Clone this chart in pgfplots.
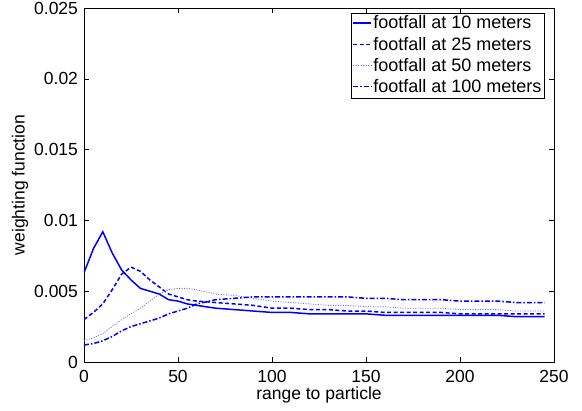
\documentclass[border=0pt]{standalone}
\usepackage{fontspec}
\setmainfont{Liberation Sans}
\usepackage{pgfplots}
\pgfplotsset{compat=1.18}
\usetikzlibrary{calc}

\begin{document}
\fontsize{17.5bp}{20bp}\selectfont
\begin{tikzpicture}
\begin{axis}[
  name=ax,
  scale only axis,
  width=470bp, height=354bp,
  xmin=0, xmax=250, ymin=0, ymax=0.025,
  xtick={0,50,...,250},
  ytick={0,0.005,0.01,0.015,0.02,0.025},
  yticklabels={0,0.005,0.01,0.015,0.02,0.025},
  scaled y ticks=false,
  tick align=inside,
  major tick length=5bp,
  tick style={black, line width=0.6bp},
  axis line style={line width=0.8bp},
  /pgf/number format/assume math mode=true,
  xticklabel style={yshift=-2bp},
  xlabel={range to particle},
  ylabel={weighting function},
  xlabel style={yshift=7bp},
  ylabel style={yshift=-6bp},
  legend cell align=left,
  legend style={at={(0.98,0.987)}, anchor=north east, draw=black,
    inner sep=1.5bp, row sep=2.5bp,
    nodes={inner sep=1.5bp, font=\fontsize{18bp}{20bp}\selectfont}},
  legend image code/.code={\draw[#1] (0bp,0.5bp) -- (18bp,0.5bp);},
]
\addplot[blue, line width=1.5bp] coordinates {
(0,0.0063) (5,0.0080) (10,0.0092) (15,0.0077) (20,0.0065) (25,0.0058)
(30,0.0052) (35,0.0050) (40,0.0048) (45,0.0044) (50,0.0043) (55,0.0041)
(60,0.0040) (70,0.0038) (80,0.0037) (90,0.0036) (100,0.0035) (110,0.0035)
(120,0.0034) (130,0.0034) (140,0.0034) (150,0.0034) (160,0.0033) (170,0.0033)
(180,0.0033) (190,0.0033) (200,0.0033) (210,0.0033) (220,0.0033) (230,0.0032)
(240,0.0032) (245,0.0032)};
\addlegendentry{footfall at 10 meters}
\addplot[blue, line width=1.5bp, dash pattern=on 4bp off 2.5bp] coordinates {
(0,0.0030) (5,0.0035) (10,0.0041) (15,0.0051) (20,0.0062) (25,0.0067)
(30,0.0064) (35,0.0058) (40,0.0053) (45,0.0048) (50,0.0046) (55,0.0044)
(60,0.0043) (70,0.0042) (80,0.0041) (90,0.0040) (100,0.0038) (110,0.0038)
(120,0.0037) (130,0.0037) (140,0.0036) (150,0.0036) (160,0.0035) (170,0.0035)
(180,0.0035) (190,0.0035) (200,0.0034) (210,0.0034) (220,0.0034) (230,0.0034)
(240,0.0034) (245,0.0034)};
\addlegendentry{footfall at 25 meters}
\addplot[blue!60, line width=0.8bp, dash pattern=on 1bp off 1.5bp] coordinates {
(0,0.0015) (5,0.0017) (10,0.0020) (15,0.0025) (20,0.0030) (25,0.0034)
(30,0.0038) (35,0.0043) (40,0.0048) (45,0.0051) (50,0.0052) (55,0.0052)
(60,0.0051) (70,0.0048) (80,0.0047) (90,0.0045) (100,0.0043) (110,0.0042)
(120,0.0041) (130,0.0040) (140,0.0040) (150,0.0039) (160,0.0039) (170,0.0038)
(180,0.0038) (190,0.0038) (200,0.0037) (210,0.0037) (220,0.0037) (230,0.0036)
(240,0.0036) (245,0.0036)};
\addlegendentry{footfall at 50 meters}
\addplot[blue, line width=1.5bp, dash pattern=on 5bp off 2bp on 1.5bp off 2bp] coordinates {
(0,0.0012) (5,0.0013) (10,0.0015) (15,0.0018) (20,0.0022) (25,0.0025)
(30,0.0027) (35,0.0029) (40,0.0031) (45,0.0034) (50,0.0036) (55,0.0038)
(60,0.0041) (70,0.0044) (80,0.0045) (90,0.0046) (100,0.0046) (110,0.0046)
(120,0.0046) (130,0.0046) (140,0.0046) (150,0.0045) (160,0.0045) (170,0.0044)
(180,0.0044) (190,0.0044) (200,0.0043) (210,0.0043) (220,0.0043) (230,0.0042)
(240,0.0042) (245,0.0042)};
\addlegendentry{footfall at 100 meters}
\end{axis}
\pgfresetboundingbox
\path[use as bounding box] ($(ax.south west)+(-84bp,-49bp)$) rectangle ($(ax.north east)+(28bp,8bp)$);
\end{tikzpicture}
\end{document}
